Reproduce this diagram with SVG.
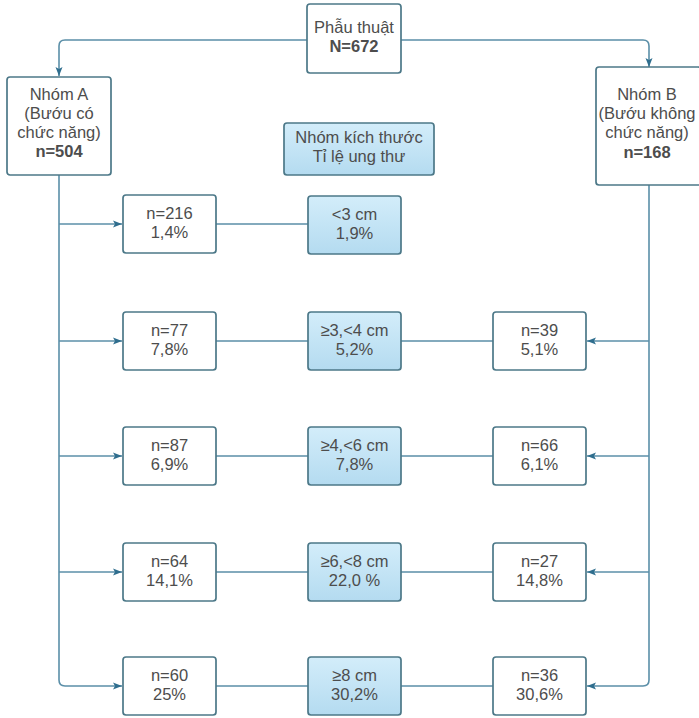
<svg xmlns="http://www.w3.org/2000/svg" width="699" height="718" viewBox="0 0 699 718">
<defs>
<linearGradient id="blue" x1="0" y1="0" x2="0" y2="1">
<stop offset="0" stop-color="#d3edfa"/>
<stop offset="1" stop-color="#b4dbf0"/>
</linearGradient>
<marker id="arr" markerUnits="userSpaceOnUse" markerWidth="10" markerHeight="8" refX="9" refY="4" orient="auto">
<path d="M0,0.5 L9,4 L0,7.5 L2,4 Z" fill="#2f6e8e"/>
</marker>
<style>
.box{fill:#ffffff;stroke:#4c7888;stroke-width:1.7}
.bbox{fill:url(#blue);stroke:#4c7888;stroke-width:1.7}
.t{font-family:"Liberation Sans",Arial,sans-serif;font-size:16.5px;fill:#4d4d4d;text-anchor:middle}
.b{font-weight:bold}
.c{fill:none;stroke:#5b8fa8;stroke-width:1.6}
</style>
</defs>
<rect width="699" height="718" fill="#ffffff"/>
<g id="connectors">
<path class="c" d="M307,40 H65 Q59,40 59,46 V76" marker-end="url(#arr)"/>
<path class="c" d="M401,40 H643 Q649,40 649,46 V67" marker-end="url(#arr)"/>
<path class="c" d="M59,175 V680 Q59,686 65,686 H122" marker-end="url(#arr)"/>
<path class="c" d="M59,224 H122" marker-end="url(#arr)"/>
<path class="c" d="M59,341 H122" marker-end="url(#arr)"/>
<path class="c" d="M59,456 H122" marker-end="url(#arr)"/>
<path class="c" d="M59,572 H122" marker-end="url(#arr)"/>
<path class="c" d="M649,185 V680 Q649,686 643,686 H587" marker-end="url(#arr)"/>
<path class="c" d="M649,341 H587" marker-end="url(#arr)"/>
<path class="c" d="M649,456 H587" marker-end="url(#arr)"/>
<path class="c" d="M649,572 H587" marker-end="url(#arr)"/>
<path class="c" d="M216,224 H308 M216,341 H308 M216,456 H308 M216,572 H308 M216,686 H308"/>
<path class="c" d="M401,341 H493 M401,456 H493 M401,572 H493 M401,686 H493"/>
</g>
<g id="top">
<rect class="box" x="307" y="4" width="94" height="69" rx="3"/>
<text class="t" x="354" y="33">Phẫu thuật</text>
<text class="t b" x="354" y="52">N=672</text>
</g>
<g id="groupA">
<rect class="box" x="7" y="77" width="104" height="98" rx="3"/>
<text class="t" x="59" y="100">Nhóm A</text>
<text class="t" x="59" y="119">(Bướu có</text>
<text class="t" x="59" y="138">chức năng)</text>
<text class="t b" x="59" y="157">n=504</text>
</g>
<g id="groupB">
<rect class="box" x="596" y="67" width="105" height="118" rx="3"/>
<text class="t" x="647" y="100">Nhóm B</text>
<text class="t" x="647" y="119">(Bướu không</text>
<text class="t" x="647" y="138">chức năng)</text>
<text class="t b" x="647" y="158">n=168</text>
</g>
<g id="header">
<rect class="bbox" x="284" y="123" width="150" height="52" rx="3"/>
<text class="t" x="359" y="143">Nhóm kích thước</text>
<text class="t" x="359" y="162">Tỉ lệ ung thư</text>
</g>
<g id="a1"><rect class="box" x="123" y="195" width="93" height="58" rx="3"/><text class="t" x="169.5" y="219">n=216</text><text class="t" x="169.5" y="238">1,4%</text></g>
<g id="m1"><rect class="bbox" x="308" y="196" width="93" height="58" rx="3"/><text class="t" x="354.5" y="220">&lt;3 cm</text><text class="t" x="354.5" y="239">1,9%</text></g>
<g id="a2"><rect class="box" x="123" y="312" width="93" height="58" rx="3"/><text class="t" x="169.5" y="336">n=77</text><text class="t" x="169.5" y="355">7,8%</text></g>
<g id="m2"><rect class="bbox" x="308" y="312" width="93" height="58" rx="3"/><text class="t" x="354.5" y="336">≥3,&lt;4 cm</text><text class="t" x="354.5" y="355">5,2%</text></g>
<g id="b2"><rect class="box" x="493" y="312" width="93" height="58" rx="3"/><text class="t" x="539.5" y="336">n=39</text><text class="t" x="539.5" y="355">5,1%</text></g>
<g id="a3"><rect class="box" x="123" y="427" width="93" height="58" rx="3"/><text class="t" x="169.5" y="451">n=87</text><text class="t" x="169.5" y="470">6,9%</text></g>
<g id="m3"><rect class="bbox" x="308" y="427" width="93" height="58" rx="3"/><text class="t" x="354.5" y="451">≥4,&lt;6 cm</text><text class="t" x="354.5" y="470">7,8%</text></g>
<g id="b3"><rect class="box" x="493" y="427" width="93" height="58" rx="3"/><text class="t" x="539.5" y="451">n=66</text><text class="t" x="539.5" y="470">6,1%</text></g>
<g id="a4"><rect class="box" x="123" y="543" width="93" height="58" rx="3"/><text class="t" x="169.5" y="567">n=64</text><text class="t" x="169.5" y="586">14,1%</text></g>
<g id="m4"><rect class="bbox" x="308" y="543" width="93" height="58" rx="3"/><text class="t" x="354.5" y="567">≥6,&lt;8 cm</text><text class="t" x="354.5" y="586">22,0 %</text></g>
<g id="b4"><rect class="box" x="493" y="543" width="93" height="58" rx="3"/><text class="t" x="539.5" y="567">n=27</text><text class="t" x="539.5" y="586">14,8%</text></g>
<g id="a5"><rect class="box" x="123" y="657" width="93" height="58" rx="3"/><text class="t" x="169.5" y="681">n=60</text><text class="t" x="169.5" y="700">25%</text></g>
<g id="m5"><rect class="bbox" x="308" y="657" width="93" height="58" rx="3"/><text class="t" x="354.5" y="681">≥8 cm</text><text class="t" x="354.5" y="700">30,2%</text></g>
<g id="b5"><rect class="box" x="493" y="657" width="93" height="58" rx="3"/><text class="t" x="539.5" y="681">n=36</text><text class="t" x="539.5" y="700">30,6%</text></g>
</svg>
